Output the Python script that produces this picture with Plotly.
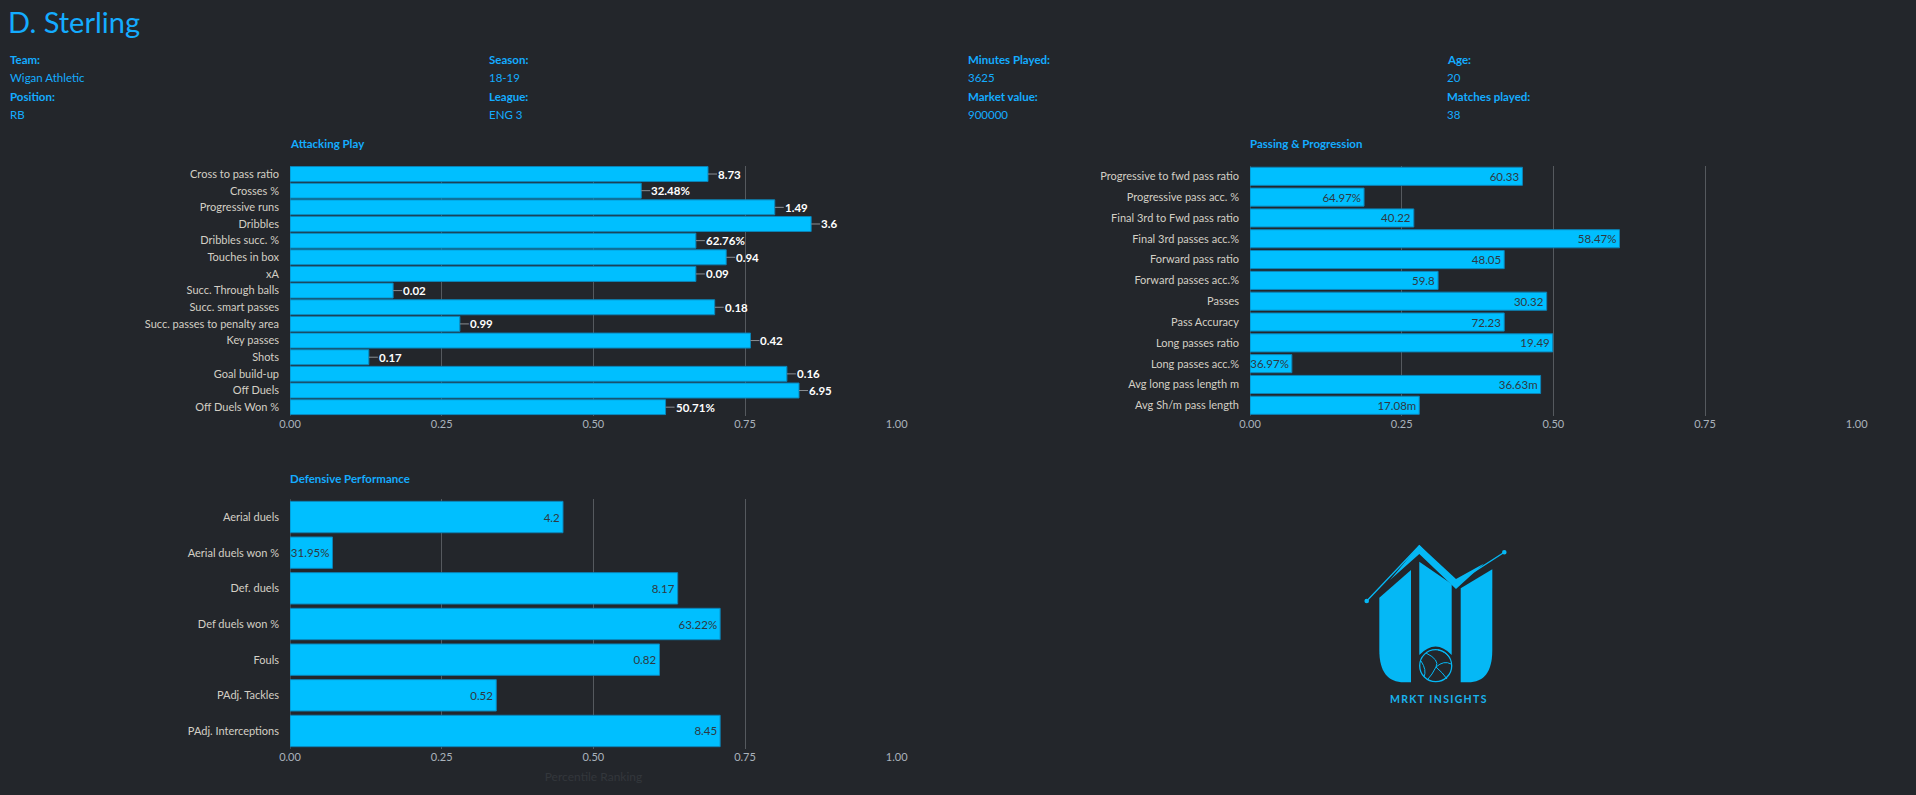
import plotly.graph_objects as go

W, H = 1916, 795
BG = "#23262b"
BLUE = "#00BFFF"
EDGE = "#0b84b8"
TXT_BLUE = "#14acff"
FONT = "Source Sans Pro, Lato, sans-serif"

# ---------------- data ----------------
player_name = "D. Sterling"
info_labels = [["Team:", "Position:"], ["Season:", "League:"],
               ["Minutes Played:", "Market value:"], ["Age:", "Matches played:"]]
info_values = [["Wigan Athletic", "RB"], ["18-19", "ENG 3"],
               ["3625", "900000"], ["20", "38"]]

att_metrics = ["Cross to pass ratio", "Crosses %", "Progressive runs", "Dribbles",
               "Dribbles succ. %", "Touches in box", "xA", "Succ. Through balls",
               "Succ. smart passes", "Succ. passes to penalty area", "Key passes",
               "Shots", "Goal build-up", "Off Duels", "Off Duels Won %"]
att_pct = [0.689, 0.579, 0.799, 0.859, 0.669, 0.719, 0.669, 0.170,
           0.700, 0.280, 0.759, 0.130, 0.819, 0.839, 0.619]
att_text = ["8.73", "32.48%", "1.49", "3.6", "62.76%", "0.94", "0.09", "0.02",
            "0.18", "0.99", "0.42", "0.17", "0.16", "6.95", "50.71%"]

pas_metrics = ["Progressive to fwd pass ratio", "Progressive pass acc. %",
               "Final 3rd to Fwd pass ratio", "Final 3rd passes acc.%",
               "Forward pass ratio", "Forward passes acc.%", "Passes",
               "Pass Accuracy", "Long passes ratio", "Long passes acc.%",
               "Avg long pass length m", "Avg Sh/m pass length"]
pas_pct = [0.449, 0.188, 0.270, 0.609, 0.419, 0.310, 0.489, 0.419,
           0.499, 0.069, 0.479, 0.279]
pas_text = ["60.33", "64.97%", "40.22", "58.47%", "48.05", "59.8", "30.32",
            "72.23", "19.49", "36.97%", "36.63m", "17.08m"]

def_metrics = ["Aerial duels", "Aerial duels won %", "Def. duels", "Def duels won %",
               "Fouls", "PAdj. Tackles", "PAdj. Interceptions"]
def_pct = [0.450, 0.070, 0.639, 0.709, 0.609, 0.340, 0.709]
def_text = ["4.2", "31.95%", "8.17", "63.22%", "0.82", "0.52", "8.45"]

x_ticks = [0, 0.25, 0.5, 0.75, 1.0]
section_titles = ["Attacking Play", "Passing & Progression", "Defensive Performance"]
x_title = "Percentile Ranking"
logo_text = "M\u2009R\u2009K\u2009T\u2002I\u2009N\u2009S\u2009I\u2009G\u2009H\u2009T\u2009S"


def px(x):
    return x / W


def py(y):
    return 1 - y / H


def pt(x, y):
    return f"{px(x):.5f},{py(y):.5f}"


fig = go.Figure()

fig.add_trace(go.Bar(x=att_pct, y=att_metrics, orientation="h", width=0.9,
                     marker=dict(color=BLUE, line=dict(color=EDGE, width=1)),
                     xaxis="x", yaxis="y", hoverinfo="skip", showlegend=False))
fig.add_trace(go.Bar(x=pas_pct, y=pas_metrics, orientation="h", width=0.87,
                     marker=dict(color=BLUE, line=dict(color=EDGE, width=1)),
                     text=pas_text, textposition="inside", insidetextanchor="end",
                     constraintext="none",
                     textfont=dict(color="#2f3942", size=11.5, family=FONT),
                     xaxis="x2", yaxis="y2", hoverinfo="skip", showlegend=False))
fig.add_trace(go.Bar(x=def_pct, y=def_metrics, orientation="h", width=0.88,
                     marker=dict(color=BLUE, line=dict(color=EDGE, width=1)),
                     text=def_text, textposition="inside", insidetextanchor="end",
                     constraintext="none",
                     textfont=dict(color="#2f3942", size=11.5, family=FONT),
                     xaxis="x3", yaxis="y3", hoverinfo="skip", showlegend=False))


def xax(x0, x1, anchor, title=None):
    d = dict(domain=[px(x0), px(x1)], anchor=anchor, range=[0, 1.0005],
             tickvals=x_ticks, tickformat=".2f", showgrid=True, gridcolor="#55595e",
             gridwidth=1, zeroline=True, zerolinecolor="#44484d", zerolinewidth=1,
             showline=False, ticks="", automargin=False,
             tickfont=dict(size=11, color="#aab3bc", family=FONT), fixedrange=True)
    if title:
        d["title"] = dict(text=title, font=dict(size=12, color="#33373c", family=FONT),
                          standoff=10)
    return d


def yax(y_top, y_bot, anchor):
    return dict(domain=[py(y_bot), py(y_top)], anchor=anchor, autorange="reversed",
                type="category", showgrid=False, zeroline=False, showline=False,
                ticks="", ticklabelstandoff=10, automargin=False,
                tickfont=dict(size=11, color="#d3cfc5", family=FONT), fixedrange=True)


annotations = []
annotations.append(dict(text=player_name, x=px(6), y=py(22), xref="paper", yref="paper",
                        xanchor="left", yanchor="middle", showarrow=False,
                        font=dict(size=29, color=TXT_BLUE, family=FONT)))
col_x = [8, 487, 966, 1445]
row_y = [60, 78, 96.5, 115]
for ci in range(4):
    for ri in range(2):
        annotations.append(dict(text=f"<b>{info_labels[ci][ri]}</b>", x=px(col_x[ci]),
                                y=py(row_y[2 * ri]), xref="paper", yref="paper",
                                xanchor="left", yanchor="middle", showarrow=False,
                                font=dict(size=11.5, color=TXT_BLUE, family=FONT)))
        annotations.append(dict(text=info_values[ci][ri], x=px(col_x[ci]),
                                y=py(row_y[2 * ri + 1]), xref="paper", yref="paper",
                                xanchor="left", yanchor="middle", showarrow=False,
                                font=dict(size=11.5, color=TXT_BLUE, family=FONT)))
for t, (sx, sy) in zip(section_titles, [(288, 144), (1248, 144), (288, 478)]):
    annotations.append(dict(text=f"<b>{t}</b>", x=px(sx), y=py(sy), xref="paper",
                            yref="paper", xanchor="left", yanchor="middle",
                            showarrow=False,
                            font=dict(size=11.5, color=TXT_BLUE, family=FONT)))
for m, v, t in zip(att_metrics, att_pct, att_text):
    annotations.append(dict(text=f"<b>{t}</b>", x=v, y=m, xref="x", yref="y",
                            showarrow=True, arrowhead=0, arrowwidth=1,
                            arrowcolor="#8a8e93", ax=9, ay=0, xanchor="left",
                            yanchor="middle", borderpad=0, standoff=0,
                            font=dict(size=11.5, color="#ffffff", family=FONT)))
annotations.append(dict(text=f"<b>{logo_text}</b>", x=px(1438), y=py(698.5), xref="paper",
                        yref="paper", xanchor="center", yanchor="middle", showarrow=False,
                        font=dict(size=10.5, color="#19b3ee", family=FONT)))

# logo shapes
LB = "#05b8f5"
shapes = []
fill = dict(type="path", xref="paper", yref="paper", fillcolor=LB,
            line=dict(width=0), layer="above")
shapes.append(dict(fill, path=f"M {pt(1379.3,597.7)} L {pt(1411,570)} L {pt(1411,682.3)} "
                              f"L {pt(1404,682.3)} C {pt(1388,682.3)} {pt(1379.3,672)} {pt(1379.3,650)} Z"))
shapes.append(dict(fill, path=f"M {pt(1419.3,561.7)} L {pt(1451.7,584)} L {pt(1451.7,655)} "
                              f"Q {pt(1435.7,638)} {pt(1419.3,655)} Z"))
shapes.append(dict(fill, path=f"M {pt(1460.7,588.3)} L {pt(1492.3,569.3)} L {pt(1492.3,650)} "
                              f"C {pt(1492.3,672)} {pt(1484,682.3)} {pt(1468,682.3)} L {pt(1460.7,682.3)} Z"))
shapes.append(dict(fill, path=f"M {pt(1390,580)} L {pt(1419.3,545)} L {pt(1456,579)} "
                              f"L {pt(1484,563.5)} L {pt(1456,589)} L {pt(1419.3,554)} Z"))
shapes.append(dict(type="path", xref="paper", yref="paper", layer="above",
                   path=f"M {pt(1366.7,601)} L {pt(1419.3,545.7)} L {pt(1456,583.3)} L {pt(1504.3,552.3)}",
                   line=dict(color=LB, width=1.3)))
for cx, cy in [(1366.7, 601), (1504.3, 552.3)]:
    shapes.append(dict(type="circle", xref="paper", yref="paper", layer="above",
                       x0=px(cx - 2.3), x1=px(cx + 2.3), y0=py(cy + 2.3), y1=py(cy - 2.3),
                       fillcolor=LB, line=dict(width=0)))
shapes.append(dict(type="circle", xref="paper", yref="paper", layer="above",
                   x0=px(1419.7), x1=px(1451.7), y0=py(681.7), y1=py(649.7),
                   fillcolor=BG, line=dict(color=LB, width=1.3)))
seam = dict(type="path", xref="paper", yref="paper", layer="above",
            line=dict(color=LB, width=1))
shapes.append(dict(seam, path=f"M {pt(1426,653)} Q {pt(1440,660)} {pt(1436,667)} Q {pt(1432,675)} {pt(1428,679)}"))
shapes.append(dict(seam, path=f"M {pt(1436,667)} Q {pt(1444,660)} {pt(1451,664)}"))
shapes.append(dict(seam, path=f"M {pt(1436,667)} Q {pt(1443,673)} {pt(1447,679)}"))
shapes.append(dict(seam, path=f"M {pt(1421,661)} Q {pt(1427,670)} {pt(1424,677)}"))
shapes.append(dict(seam, path=f"M {pt(1438,650)} Q {pt(1446,652)} {pt(1449,657)}"))

fig.update_layout(
    width=W, height=H, margin=dict(l=0, r=0, t=0, b=0, autoexpand=False),
    paper_bgcolor=BG, plot_bgcolor=BG,
    font=dict(family=FONT, color="#d0ccc2"),
    xaxis=xax(290, 897, "y"),
    yaxis=yax(165.7, 415.5, "x"),
    xaxis2=xax(1250, 1857, "y2"),
    yaxis2=yax(165.9, 415.7, "x2"),
    xaxis3=xax(290, 897, "y3", title=x_title),
    yaxis3=yax(499.2, 748.8, "x3"),
    annotations=annotations, shapes=shapes,
)

fig.write_html("out.html", config={"displayModeBar": False})
